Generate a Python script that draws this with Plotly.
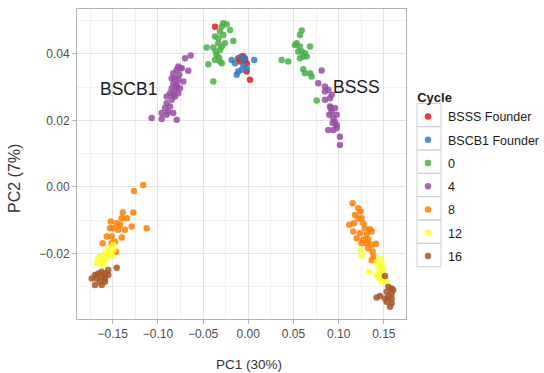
import plotly.graph_objects as go

# ---- data (PC1, PC2) per cycle group ----
groups = ["BSSS Founder", "BSCB1 Founder", "0", "4", "8", "12", "16"]
colors = ["#E41A1C", "#377EB8", "#4DAF4A", "#984EA3", "#FF7F00", "#FFFF33", "#A65628"]

bsss_founder_x = [-0.0368, 0.0019, -0.0018, -0.0073, -0.0111, -0.0037, -0.0092, -0.0055, -0.0018]
bsss_founder_y = [0.0482, 0.0322, 0.0347, 0.0392, 0.0387, 0.0382, 0.0377, 0.0392, 0.0372]

bscb1_founder_x = [-0.0184, -0.0147, -0.0055, 0.0066, -0.0073, -0.0111, -0.0128, -0.0037, -0.0081, -0.0018]
bscb1_founder_y = [0.0382, 0.0372, 0.0367, 0.0382, 0.0352, 0.0347, 0.0337, 0.0387, 0.0389, 0.0357]

c0_x = [-0.0277, -0.0239, -0.0294, -0.0202, -0.0313, -0.0368, -0.0332, -0.0277, -0.0166, -0.0332,
        -0.0294, -0.0460, -0.0387, -0.0313, -0.0350, -0.0368, -0.0313, -0.0442, -0.0294, -0.0387,
        -0.0258, -0.0361, -0.0324,
        0.0591, 0.0572, 0.0535, 0.0572, 0.0683, 0.0591, 0.0627, 0.0553, 0.0608, 0.0646,
        0.0572, 0.0369, 0.0442, 0.0608, 0.0627, 0.0683, 0.0701, 0.0757, 0.0517]
c0_y = [0.0492, 0.0489, 0.0482, 0.0472, 0.0467, 0.0452, 0.0447, 0.0457, 0.0439, 0.0432,
        0.0422, 0.0419, 0.0419, 0.0412, 0.0397, 0.0382, 0.0377, 0.0369, 0.0372, 0.0317,
        0.0432, 0.0407, 0.0389,
        0.0470, 0.0457, 0.0432, 0.0422, 0.0422, 0.0407, 0.0402, 0.0407, 0.0392, 0.0392,
        0.0387, 0.0382, 0.0377, 0.0354, 0.0342, 0.0342, 0.0332, 0.0260, 0.0427]

c4_x = [-0.0637, -0.0700, -0.0774, -0.0756, -0.0792, -0.0737, -0.0664, -0.0830, -0.0763, -0.0811,
        -0.0847, -0.0774, -0.0830, -0.0719, -0.0792, -0.0847, -0.0811, -0.0866, -0.0830, -0.0903,
        -0.0847, -0.0903, -0.0866, -0.0921, -0.0885, -0.0958, -0.0903, -0.1069, -0.0958, -0.0792,
        -0.0830, -0.0792, -0.0756, -0.0811, -0.0774,
        0.0812, 0.0774, 0.0848, 0.0885, 0.0848, 0.0923, 0.0904, 0.0848, 0.0904, 0.0959,
        0.0923, 0.0978, 0.0940, 0.0959, 0.0978, 0.0885, 0.0940, 0.0978, 0.1014, 0.1014,
        0.0912, 0.0896, 0.0934]
c4_y = [0.0395, 0.0387, 0.0362, 0.0357, 0.0352, 0.0357, 0.0349, 0.0342, 0.0337, 0.0327,
        0.0327, 0.0322, 0.0312, 0.0317, 0.0307, 0.0297, 0.0292, 0.0282, 0.0277, 0.0272,
        0.0262, 0.0252, 0.0242, 0.0237, 0.0226, 0.0222, 0.0217, 0.0207, 0.0204, 0.0202,
        0.0222, 0.0302, 0.0297, 0.0272, 0.0282,
        0.0350, 0.0312, 0.0302, 0.0292, 0.0287, 0.0277, 0.0267, 0.0262, 0.0242, 0.0237,
        0.0226, 0.0217, 0.0207, 0.0196, 0.0186, 0.0171, 0.0171, 0.0177, 0.0151, 0.0126,
        0.0237, 0.0217, 0.0192]

c8_x = [-0.1162, -0.1264, -0.1389, -0.1272, -0.1345, -0.1400, -0.1124, -0.1290, -0.1522, -0.1456,
        -0.1530, -0.1493, -0.1438, -0.1364, -0.1566, -0.1511, -0.1400, -0.1611, -0.1511, -0.1463,
        -0.1475, -0.1419,
        0.1155, 0.1217, 0.1243, 0.1180, 0.1217, 0.1254, 0.1117, 0.1169, 0.1272, 0.1291,
        0.1346, 0.1365, 0.1162, 0.1236, 0.1310, 0.1199, 0.1272, 0.1327, 0.1254, 0.1310,
        0.1365, 0.1413, 0.1327, 0.1376, 0.1383, 0.1365]
c8_y = [0.0006, -0.0012, -0.0077, -0.0077, -0.0094, -0.0094, -0.0124, -0.0119, -0.0104, -0.0109,
        -0.0124, -0.0124, -0.0129, -0.0129, -0.0149, -0.0149, -0.0152, -0.0169, -0.0169, -0.0195,
        -0.0165, -0.0114,
        -0.0049, -0.0064, -0.0074, -0.0084, -0.0094, -0.0094, -0.0114, -0.0109, -0.0109, -0.0124,
        -0.0127, -0.0134, -0.0134, -0.0139, -0.0144, -0.0154, -0.0159, -0.0159, -0.0169, -0.0169,
        -0.0174, -0.0171, -0.0184, -0.0195, -0.0210, -0.0220]

c12_x = [-0.1493, -0.1549, -0.1585, -0.1530, -0.1640, -0.1566, -0.1493, -0.1622, -0.1677, -0.1585,
         -0.1511, -0.1659, -0.1604,
         0.1243, 0.1254, 0.1457, 0.1420, 0.1476, 0.1438, 0.1493, 0.1338, 0.1457, 0.1420,
         0.1493, 0.1449, 0.1476, 0.1531]
c12_y = [-0.0174, -0.0184, -0.0199, -0.0195, -0.0210, -0.0210, -0.0189, -0.0225, -0.0229, -0.0220,
         -0.0205, -0.0214, -0.0235,
         -0.0189, -0.0205, -0.0214, -0.0225, -0.0229, -0.0240, -0.0245, -0.0255, -0.0255, -0.0265,
         -0.0265, -0.0275, -0.0285, -0.0280]

c16_x = [-0.1456, -0.1549, -0.1622, -0.1659, -0.1696, -0.1732, -0.1677, -0.1622, -0.1585, -0.1640,
         -0.1585, -0.1696, -0.1622, -0.1585, -0.1549,
         0.1512, 0.1549, 0.1586, 0.1531, 0.1586, 0.1457, 0.1420, 0.1549, 0.1586, 0.1531,
         0.1586, 0.1568, 0.1604, 0.1512]
c16_y = [-0.0243, -0.0250, -0.0255, -0.0260, -0.0265, -0.0275, -0.0275, -0.0270, -0.0275, -0.0285,
         -0.0285, -0.0295, -0.0295, -0.0260, -0.0265,
         -0.0268, -0.0300, -0.0305, -0.0315, -0.0320, -0.0328, -0.0332, -0.0330, -0.0335, -0.0345,
         -0.0350, -0.0360, -0.0310, -0.0335]

xs = [bsss_founder_x, bscb1_founder_x, c0_x, c4_x, c8_x, c12_x, c16_x]
ys = [bsss_founder_y, bscb1_founder_y, c0_y, c4_y, c8_y, c12_y, c16_y]

x_ticks = [-0.15, -0.10, -0.05, 0.00, 0.05, 0.10, 0.15]
x_tick_labels = ["\u22120.15", "\u22120.10", "\u22120.05", "0.00", "0.05", "0.10", "0.15"]
y_ticks = [-0.02, 0.00, 0.02, 0.04]
y_tick_labels = ["\u22120.02", "0.00", "0.02", "0.04"]

FONT = "Liberation Sans, Arial, sans-serif"

fig = go.Figure()
for i, (g, c, x, y) in enumerate(zip(groups, colors, xs, ys)):
    fig.add_trace(go.Scatter(
        x=x, y=y, mode="markers", name=g, legendgroup=g,
        marker=dict(color=c, size=6.5, opacity=0.85, line=dict(width=0)),
    ))

axis_common = dict(
    showline=True, mirror=True, linecolor="#b3b3b3", linewidth=1,
    showgrid=True, gridcolor="#e3e3e3", gridwidth=1,
    zeroline=False, ticks="outside", ticklen=4, tickcolor="#b3b3b3",
    tickfont=dict(family=FONT, size=12, color="#4d4d4d"),
)

fig.update_xaxes(range=[-0.1895, 0.1745], tickvals=x_ticks, ticktext=x_tick_labels,
                 minor=dict(dtick=0.025, tick0=0, showgrid=True, gridcolor="#f0f0f0", gridwidth=1),
                 **axis_common)
fig.update_yaxes(range=[-0.0397, 0.0535], tickvals=y_ticks, ticktext=y_tick_labels,
                 minor=dict(dtick=0.01, tick0=0, showgrid=True, gridcolor="#f0f0f0", gridwidth=1),
                 **axis_common)

# plot area in pixels: x 77..406, y 9..319
L, R, T, B = 77, 406, 9, 319
def px(xp):
    return (xp - L) / (R - L)
def py(yp):
    return (B - yp) / (B - T)

annotations = [
    dict(text="BSCB1", x=-0.132, y=0.0295, xref="x", yref="y", showarrow=False,
         font=dict(family=FONT, size=17.5, color="#1a1a1a")),
    dict(text="BSSS", x=0.1202, y=0.0301, xref="x", yref="y", showarrow=False,
         font=dict(family=FONT, size=17.5, color="#1a1a1a")),
    dict(text="PC1 (30%)", x=px(248.5), y=py(364), xref="paper", yref="paper", showarrow=False,
         font=dict(family=FONT, size=13.5, color="#333333"), xanchor="center", yanchor="middle"),
    dict(text="PC2 (7%)", x=px(14), y=py(179), xref="paper", yref="paper", showarrow=False,
         textangle=-90, font=dict(family=FONT, size=16, color="#333333"),
         xanchor="center", yanchor="middle"),
]

# legend key boxes
shapes = []
for k in range(len(groups)):
    cy = 115 + 23.33 * k
    shapes.append(dict(type="rect", xref="paper", yref="paper",
                       x0=px(417), x1=px(441), y0=py(cy + 11.67), y1=py(cy - 11.67),
                       line=dict(color="#cfcfcf", width=1), fillcolor="rgba(0,0,0,0)",
                       layer="above"))

fig.update_layout(
    width=544, height=373,
    margin=dict(l=L, r=544 - R, t=T, b=373 - B, autoexpand=False),
    paper_bgcolor="white", plot_bgcolor="white",
    font=dict(family=FONT, size=12, color="#1a1a1a"),
    showlegend=True,
    legend=dict(
        title=dict(text="&nbsp;&nbsp;<b>Cycle</b>", font=dict(family=FONT, size=13, color="#1a1a1a")),
        x=px(408), y=py(85), xanchor="left", yanchor="top",
        font=dict(family=FONT, size=12.5, color="#1a1a1a"),
        bgcolor="rgba(0,0,0,0)", tracegroupgap=4, itemsizing="trace",
        traceorder="grouped",
    ),
    annotations=annotations,
    shapes=shapes,
)

fig.write_html("out.html", config={"displayModeBar": False},
               post_script="document.body.style.margin='0';document.body.style.overflow='hidden';")
